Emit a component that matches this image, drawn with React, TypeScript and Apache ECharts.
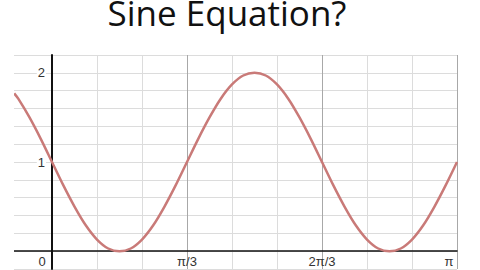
import React, { useEffect, useRef } from "react";
import * as echarts from "echarts";

// x in units of π/9, y
const xValues = [-0.84, -0.75, -0.5, -0.25, 0, 0.25, 0.5, 0.75, 1, 1.25, 1.5, 1.75, 2, 2.25, 2.5, 2.75, 3, 3.25, 3.5, 3.75, 4, 4.25, 4.5, 4.75, 5, 5.25, 5.5, 5.75, 6, 6.25, 6.5, 6.75, 7, 7.25, 7.5, 7.75, 8, 8.25, 8.5, 8.75, 9];
const yValues = [1.77, 1.71, 1.5, 1.26, 1.0, 0.74, 0.5, 0.29, 0.13, 0.03, 0.0, 0.03, 0.13, 0.29, 0.5, 0.74, 1.0, 1.26, 1.5, 1.71, 1.87, 1.97, 2.0, 1.97, 1.87, 1.71, 1.5, 1.26, 1.0, 0.74, 0.5, 0.29, 0.13, 0.03, 0.0, 0.03, 0.13, 0.29, 0.5, 0.74, 1.0];
const xTickLabels: Record<number, string> = { 0: "0", 3: "π/3", 6: "2π/3", 9: "π" };
const yTickLabels: Record<string, string> = { "1": "1", "2": "2" };
const title = "Sine Equation?";

const FONT = "Liberation Sans, Arial, sans-serif";

export default function App() {
  const ref = useRef<HTMLDivElement>(null);
  useEffect(() => {
    if (!ref.current) return;
    const chart = echarts.init(ref.current, null, { renderer: "svg" });
    const data = xValues.map((x, i) => [x, yValues[i]]);
    chart.setOption({
      animation: false,
      backgroundColor: "#fff",
      grid: { left: 7, right: 23, top: 55, bottom: 1, containLabel: false, outerBoundsMode: "none" },
      xAxis: {
        type: "value",
        min: -1,
        max: 9,
        interval: 1,
        axisLine: { onZero: true, lineStyle: { color: "#111", width: 1.5 } },
        axisTick: { show: false },
        splitLine: { show: true, lineStyle: { color: ["#dcdcdc", "#a8a8a8", "#dcdcdc"], width: 1 } },
        axisLabel: {
          margin: -14,
          color: "#333",
          fontSize: 13,
          fontFamily: FONT,
          formatter: (v: number) => {
            const k = Math.round(v);
            if (Math.abs(v - k) > 1e-6) return "";
            const t = xTickLabels[k];
            if (!t) return "";
            if (k === 0) return "{z|" + t + "}";
            if (k === 9) return "{p|" + t + "}";
            return t;
          },
          rich: {
            z: { padding: [0, 20, 0, 0], fontSize: 13, color: "#333", fontFamily: FONT },
            p: { padding: [0, 16, 0, 0], fontSize: 13, color: "#333", fontFamily: FONT },
          },
        },
      },
      yAxis: {
        type: "value",
        min: -0.2,
        max: 2.2,
        interval: 0.2,
        axisLine: { show: true, onZero: true, lineStyle: { color: "#111", width: 2 } },
        axisTick: { show: false },
        splitLine: { show: true, lineStyle: { color: "#dcdcdc", width: 1 } },
        axisLabel: {
          margin: -39,
          color: "#333",
          fontSize: 13,
          fontFamily: FONT,
          backgroundColor: "#fff",
          padding: [0, 1],
          formatter: (v: number) => {
            const key = String(Math.round(v * 10) / 10);
            return yTickLabels[key] || "";
          },
        },
      },
      series: [
        {
          type: "line",
          data,
          smooth: 0.3,
          showSymbol: false,
          lineStyle: { color: "#c97a78", width: 2.5 },
          z: 3,
        },
      ],
      graphic: [
        { type: "rect", shape: { x: 0, y: 40, width: 14, height: 230 }, style: { fill: "#fff" }, z: 10 },
        {
          type: "text",
          x: 227,
          y: 12,
          style: {
            text: title,
            font: "35px 'Open Sans', sans-serif",
            fill: "#111",
            align: "center",
            verticalAlign: "middle",
          },
          z: 10,
        },
      ],
    });
    return () => chart.dispose();
  }, []);
  return <div ref={ref} style={{ width: 480, height: 270, position: "fixed", left: 0, top: 0 }} />;
}
